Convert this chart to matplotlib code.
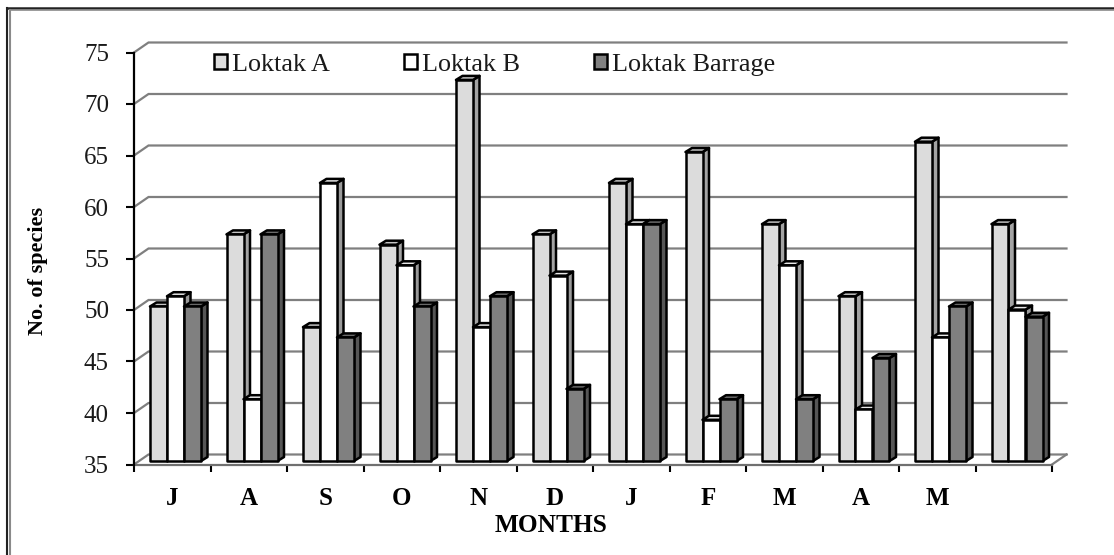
import matplotlib
matplotlib.use("Agg")
import matplotlib.pyplot as plt
from matplotlib.patches import Polygon, Patch
from matplotlib.lines import Line2D

plt.rcParams['font.family'] = ['Liberation Serif', 'DejaVu Serif']

months = ['J', 'A', 'S', 'O', 'N', 'D', 'J', 'F', 'M', 'A', 'M', '']
loktak_a = [50, 57, 48, 56, 72, 57, 62, 65, 58, 51, 66, 58]
loktak_b = [51, 41, 62, 54, 48, 53, 58, 39, 54, 40, 47, 49.7]
loktak_barrage = [50, 57, 47, 50, 51, 42, 58, 41, 41, 45, 50, 49]
series_names = ['Loktak A', 'Loktak B', 'Loktak Barrage']
y_ticks = [35, 40, 45, 50, 55, 60, 65, 70, 75]

W, H = 1114, 555
fig = plt.figure(figsize=(W / 100, H / 100), dpi=100, facecolor='white')
L, R, T, B = 134, 1052, 52.5, 464.5
ax = fig.add_axes([L / W, 1 - B / H, (R - L) / W, (B - T) / H])
ax.set_xlim(0, 12)
ax.set_ylim(35, 75)
ax.patch.set_alpha(0)

px = 12 / (R - L)
py = 40 / (B - T)
wall_dx, wall_dy = 14.5 * px, 10 * py
depth_dx, depth_dy = 6.5 * px, 4 * py
base_dy = 3.5 * py
bar_w = 17 * px
bar_start = 16 * px
GRID = '#7f7f7f'

# walls and floor
for v in y_ticks:
    ax.plot([0, wall_dx, 12 + wall_dx], [v, v + wall_dy, v + wall_dy],
            color=GRID, lw=1.6, clip_on=False, zorder=1, solid_joinstyle='miter')
ax.plot([12, 12 + wall_dx], [35, 35 + wall_dy], color=GRID, lw=1.6, clip_on=False, zorder=1)

styles = [('#dcdcdc', '#a3a3a3', '#c4c4c4'),
          ('#ffffff', '#9a9a9a', '#e8e8e8'),
          ('#808080', '#565656', '#6a6a6a')]
series = [loktak_a, loktak_b, loktak_barrage]

z = 2
for i in range(len(months)):
    for s, vals in enumerate(series):
        front, side, top = styles[s]
        x0 = i + bar_start + s * bar_w
        x1 = x0 + bar_w
        v = vals[i] + base_dy
        b = 35 + base_dy
        kw = dict(edgecolor='black', lw=1.8, clip_on=False, zorder=z, joinstyle='round')
        ax.add_patch(Polygon([(x1, b), (x1 + depth_dx, b + depth_dy),
                              (x1 + depth_dx, v + depth_dy), (x1, v)], facecolor=side, **kw))
        ax.add_patch(Polygon([(x0, v), (x1, v), (x1 + depth_dx, v + depth_dy),
                              (x0 + depth_dx, v + depth_dy)], facecolor=top, **kw))
        ax.add_patch(Polygon([(x0, b), (x1, b), (x1, v), (x0, v)], facecolor=front, **kw))
        z += 1

# axes
for sp in ('top', 'right'):
    ax.spines[sp].set_visible(False)
ax.spines['left'].set_linewidth(1.6)
ax.spines['bottom'].set_linewidth(1.6)
ax.spines['bottom'].set_color('#707070')
ax.spines['left'].set_zorder(500)
ax.set_yticks(y_ticks)
ax.tick_params(axis='y', length=6, width=1.5, pad=12, labelsize=18, labelcolor='#1a1a1a')
ax.set_xticks(range(13))
ax.set_xticklabels([])
ax.tick_params(axis='x', which='major', length=5, width=1.5)
ax.set_xticks([i + 0.5 for i in range(12)], minor=True)
ax.set_xticklabels(months, minor=True, fontweight='bold', fontsize=18)
ax.tick_params(axis='x', which='minor', length=0, pad=16.5)

ax.set_xlabel('MONTHS', fontweight='bold', fontsize=18.3)
ax.xaxis.set_label_coords((551 - L) / (R - L), -0.147)
ax.xaxis.label.set_va('center')
ax.set_ylabel('No. of species', fontweight='bold', fontsize=16)
ax.yaxis.set_label_coords((38 - L) / (R - L), (B - 271) / (B - T))
ax.yaxis.label.set_va('center')

handles = [Patch(facecolor=st[0], edgecolor='black', lw=1.8) for st in styles]
ax.legend(handles, series_names, ncol=3, frameon=False, fontsize=18.8,
          loc='upper left', bbox_to_anchor=((214 - L) / (R - L), 0.996),
          handlelength=0.5, handleheight=0.5, handletextpad=0.2,
          columnspacing=2.83, borderpad=0, borderaxespad=0, labelcolor='#1a1a1a')

# picture frame
for xs, ys, c, lw in [([6.5, 6.5], [555, 7.5], '#222222', 1.5),
                      ([6.5, 1114], [7.5, 7.5], '#222222', 1.8),
                      ([10, 10], [555, 10], '#8a8a8a', 1.5),
                      ([10, 1114], [10, 10], '#8a8a8a', 1.2)]:
    fig.add_artist(Line2D([x / W for x in xs], [1 - y / H for y in ys], color=c, lw=lw))

fig.savefig('out.png', dpi=100)
